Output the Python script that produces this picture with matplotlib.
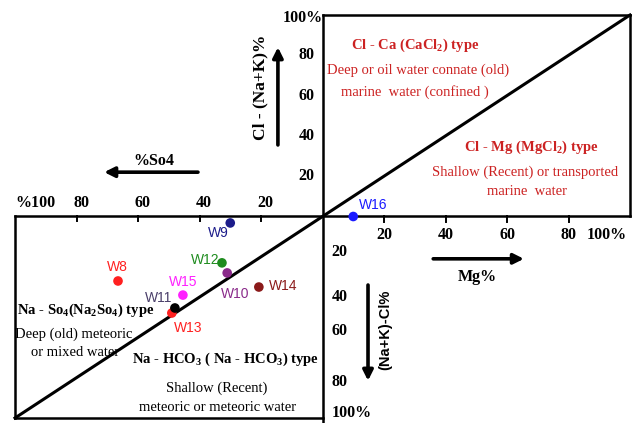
import matplotlib
matplotlib.use("Agg")
import matplotlib.pyplot as plt

plt.rcParams["mathtext.fontset"] = "custom"
plt.rcParams["mathtext.rm"] = "Liberation Serif"
plt.rcParams["mathtext.bf"] = "Liberation Serif:bold"
plt.rcParams["mathtext.it"] = "Liberation Serif:italic"

# ---------------- data ----------------
# lower-left field samples: %SO4 (leftwards) and (Na+K)-Cl % (downwards)
ll_names = ["W9", "W12", "W10", "W14", "W8", "W15", "W11", "W13"]
ll_so4 = [30, 32.7, 31, 20.7, 66.5, 45.4, 48, 49]
ll_nakcl = [3.2, 23, 28, 35, 32, 39, 45.4, 47.9]
ll_colors = ["#1c1c8a", "#1e8c1e", "#8a2a8a", "#8b1a1a", "#ff2020", "#ff20ff", "#000000", "#ff2020"]
ll_label_colors = ["#1c1c8a", "#1e8c1e", "#8a2a8a", "#8b1a1a", "#ff2020", "#ff20ff", "#4a3f6a", "#ff2020"]

# upper-right field samples: Mg % (rightwards) and Cl-(Na+K) % (upwards)
ur_names = ["W16"]
ur_mg = [10]
ur_clnak = [0]
ur_colors = ["#1a1aff"]

# tick labels
tl_ticks = [100, 80, 60, 40, 20]
tl_labels = ["%100", "80", "60", "40", "20"]
ur_yticks = [20, 40, 60, 80, 100]
ur_ylabels = ["20", "40", "60", "80", "100%"]
ur_xticks = [20, 40, 60, 80, 100]
ur_xlabels = ["20", "40", "60", "80", "100%"]
lr_ylabels = ["20", "40", "60", "80", "100%"]

# ---------------- figure ----------------
fig = plt.figure(figsize=(6.33, 4.23), dpi=100)
ax = fig.add_axes([15 / 633, 5 / 423, 615 / 633, 403 / 423])
ax.set_xlim(-100, 100)
ax.set_ylim(-100, 100)
ax.axis("off")

LW = 1.8
k = "black"
# lower-left box
ax.plot([-100, -100], [-100, 0], color=k, lw=LW, clip_on=False)
ax.plot([-100, 100], [0, 0], color=k, lw=LW, clip_on=False)
ax.plot([-100, 0], [-100, -100], color=k, lw=LW, clip_on=False)
# central vertical
ax.plot([0, 0], [100, -103], color=k, lw=LW, clip_on=False)
# upper-right box
ax.plot([0, 100], [100, 100], color=k, lw=LW, clip_on=False)
ax.plot([100, 100], [0, 100], color=k, lw=LW, clip_on=False)
# diagonal
ax.plot([-100, 100], [-100, 100], color=k, lw=2.2, clip_on=False)

# ticks
for t in tl_ticks[1:]:
    ax.plot([-t, -t], [0, -2.2], color=k, lw=1.4)
for t in ur_xticks[:-1]:
    ax.plot([t, t], [0, -2.5], color=k, lw=1.4, clip_on=False)

serif = "Liberation Serif"
sans = "Liberation Sans"
FS = 11.5

# tick labels
for t, lab in zip(tl_ticks, tl_labels):
    if lab.startswith("%"):
        ax.text(-t, 6.7, lab, ha="left", va="center", fontsize=FS, fontweight="bold", family=serif)
    else:
        ax.text(-t + 1.5, 6.7, lab, ha="center", va="center", fontsize=FS, fontweight="bold", family=serif)
for t, lab in zip(ur_yticks, ur_ylabels):
    yy = 98.5 if t == 100 else t
    ax.text(-2.5 if t != 100 else 0, yy, lab, ha="right", va="center", fontsize=FS, fontweight="bold", family=serif)
for t, lab in zip(ur_xticks, ur_xlabels):
    if t == 100:
        ax.text(99, -9.2, lab, ha="right", va="center", fontsize=FS, fontweight="bold", family=serif)
    else:
        ax.text(t, -9.2, lab, ha="center", va="center", fontsize=FS, fontweight="bold", family=serif)
lr_pos = [-17.5, -40, -57, -82, -97.5]
for yy, lab in zip(lr_pos, lr_ylabels):
    ax.text(3, yy, lab, ha="left", va="center", fontsize=FS, fontweight="bold", family=serif, clip_on=False)

# axis titles and arrows
arrow_kw = dict(arrowstyle="-|>,head_length=0.6,head_width=0.3", color=k, lw=2.6, shrinkA=0, shrinkB=0)
ax.text(-20.3, 64, "Cl - (Na+K)%", rotation=90, ha="center", va="center", fontsize=12.5, fontweight="bold", family=serif)
ax.annotate("", xy=(-14.5, 84), xytext=(-14.5, 35.5), arrowprops=arrow_kw)
ax.text(-55, 27.5, "%So4", ha="center", va="center", fontsize=11.5, fontweight="bold", family=serif)
ax.annotate("", xy=(-71, 22), xytext=(-40.5, 22), arrowprops=arrow_kw)
ax.text(50.2, -30, "Mg%", ha="center", va="center", fontsize=11.5, fontweight="bold", family=serif)
ax.annotate("", xy=(65.5, -21), xytext=(36, -21), arrowprops=arrow_kw)
ax.text(20.3, -56.3, "(Na+K)-Cl%", rotation=90, ha="center", va="center", fontsize=10.5, fontweight="bold", family=sans)
ax.annotate("", xy=(14.8, -81.5), xytext=(14.8, -34), arrowprops=arrow_kw)

# region texts
red = "#cc2222"
RS = 10.5
ax.text(30, 85, r"Cl - Ca (CaCl$_\mathbf{2}$) type", ha="center", va="center", fontsize=RS, fontweight="bold", family=serif, color=red)
ax.text(31, 72.7, "Deep or oil water connate (old)", ha="center", va="center", fontsize=RS, family=serif, color=red)
ax.text(30, 61.8, "marine  water (confined )", ha="center", va="center", fontsize=RS, family=serif, color=red)
ax.text(68, 34.5, r"Cl - Mg (MgCl$_\mathbf{2}$) type", ha="center", va="center", fontsize=RS, fontweight="bold", family=serif, color=red)
ax.text(66, 22, "Shallow (Recent) or transported", ha="center", va="center", fontsize=RS, family=serif, color=red)
ax.text(66.5, 12.2, "marine  water", ha="center", va="center", fontsize=RS, family=serif, color=red)

ax.text(-99.3, -46.8, r"Na - So$_\mathbf{4}$(Na$_\mathbf{2}$So$_\mathbf{4}$) type", ha="left", va="center", fontsize=RS, fontweight="bold", family=serif)
ax.text(-81, -58.3, "Deep (old) meteoric", ha="center", va="center", fontsize=RS, family=serif)
ax.text(-80.5, -67.7, "or mixed water", ha="center", va="center", fontsize=RS, family=serif)
ax.text(-31.4, -70.7, r"Na - HCO$_\mathbf{3}$ ( Na - HCO$_\mathbf{3}$) type", ha="center", va="center", fontsize=RS, fontweight="bold", family=serif)
ax.text(-34.3, -85, "Shallow (Recent)", ha="center", va="center", fontsize=RS, family=serif)
ax.text(-34, -95, "meteoric or meteoric water", ha="center", va="center", fontsize=RS, family=serif)

# points
label_offsets = {
    "W9": (-8.6, -7.2), "W12": (-12, 2), "W10": (6, -15), "W14": (17.5, 0.5),
    "W8": (-0.7, 10), "W15": (0, 9.4), "W11": (-12, 7.5), "W13": (11.5, -11), "W16": (14.4, 8.6),
}
order = [0, 1, 2, 3, 4, 5, 7, 6]
for i in order:
    x, y = -ll_so4[i], -ll_nakcl[i]
    ax.scatter([x], [y], s=48, color=ll_colors[i], zorder=5, edgecolors="none")
for i in range(len(ll_names)):
    x, y = -ll_so4[i], -ll_nakcl[i]
    ax.annotate(ll_names[i], (x, y), xytext=label_offsets[ll_names[i]], textcoords="offset points",
                ha="center", va="center", fontsize=10, family=sans, color=ll_label_colors[i])
for i in range(len(ur_names)):
    x, y = ur_mg[i], ur_clnak[i]
    ax.scatter([x], [y], s=48, color=ur_colors[i], zorder=5, edgecolors="none", clip_on=False)
    ax.annotate(ur_names[i], (x, y), xytext=label_offsets[ur_names[i]], textcoords="offset points",
                ha="center", va="center", fontsize=10, family=sans, color=ur_colors[i])

fig.savefig("out.png", dpi=100)
